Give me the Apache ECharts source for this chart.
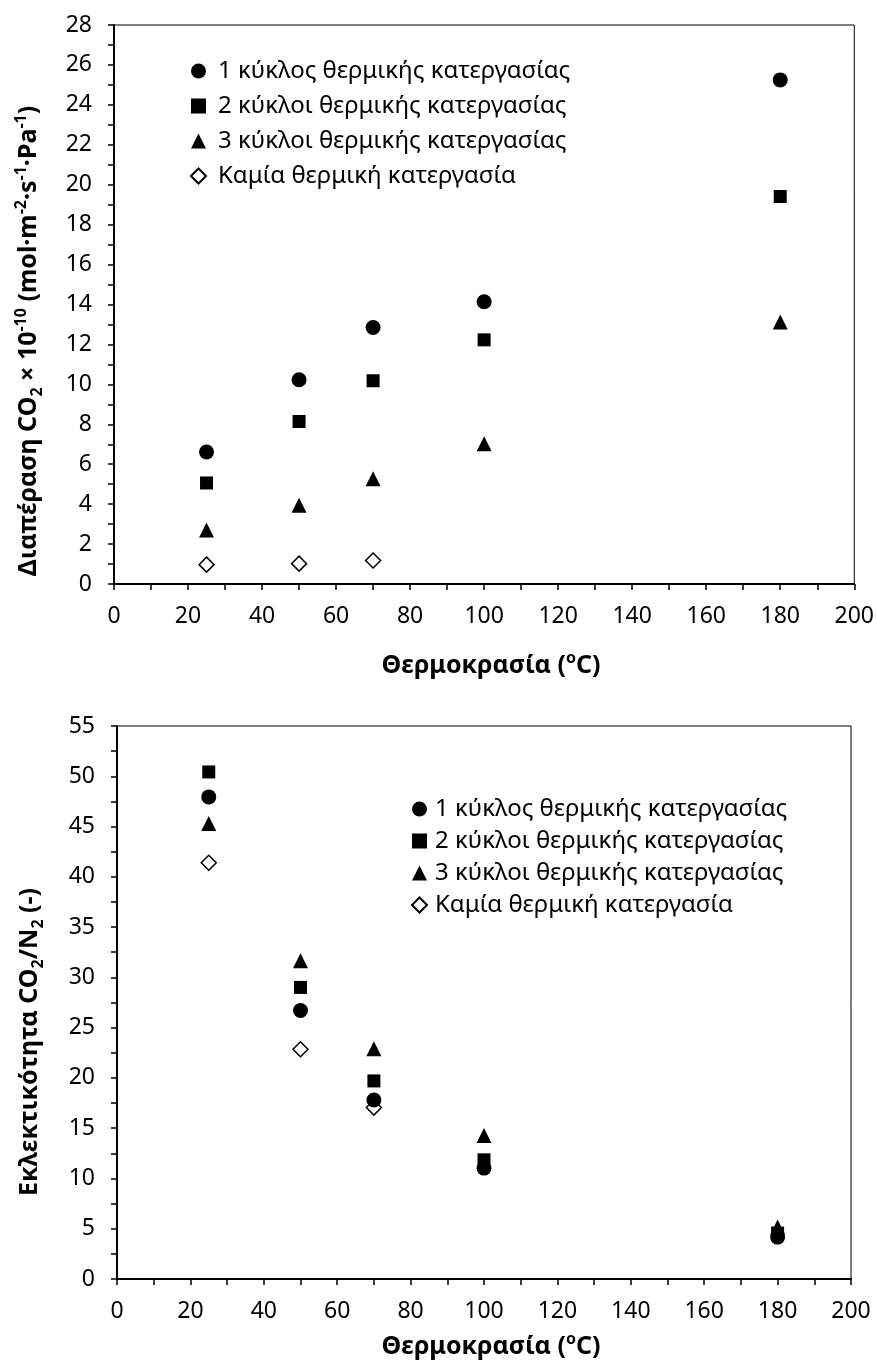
<!DOCTYPE html>
<html>
<head>
<meta charset="utf-8">
<script src="https://cdn.jsdelivr.net/npm/echarts@6/dist/echarts.min.js"></script>
<style>
html,body{margin:0;padding:0;background:#fff;}
#c{width:877px;height:1362px;}
</style>
</head>
<body>
<div id="c"></div>
<script>
// ---- data ----
const temps = [25, 50, 70, 100, 180];
const tempsNone = [25, 50, 70];
const seriesNames = ['1 κύκλος θερμικής κατεργασίας', '2 κύκλοι θερμικής κατεργασίας', '3 κύκλοι θερμικής κατεργασίας', 'Καμία θερμική κατεργασία'];
// Permeance CO2 x 1e-10
const perm1 = [6.61, 10.23, 12.85, 14.14, 25.25];
const perm2 = [5.06, 8.14, 10.18, 12.23, 19.41];
const perm3 = [2.70, 3.94, 5.27, 7.03, 13.12];
const perm0 = [0.97, 1.02, 1.18];
// Selectivity CO2/N2
const sel1 = [47.95, 26.7, 17.8, 11.03, 4.17];
const sel2 = [50.43, 29.0, 19.7, 11.85, 4.57];
const sel3 = [45.3, 31.65, 22.9, 14.27, 5.17];
const sel0 = [41.4, 22.85, 17.05];
// axis ticks
const xTicks = {min: 0, max: 200, interval: 20};
const yTopTicks = {min: 0, max: 28, interval: 2};
const yBotTicks = {min: 0, max: 55, interval: 5};

const FONT = 'Noto Sans';
const pairs = (xs, ys) => ys.map((v, i) => [xs[i], v]);

const styles = [
  {symbol: 'circle', symbolSize: 15, itemStyle: {color: '#000', opacity: 1}},
  {symbol: 'rect', symbolSize: 13, itemStyle: {color: '#000', opacity: 1}},
  {symbol: 'triangle', symbolSize: 15, itemStyle: {color: '#000', opacity: 1}},
  {symbol: 'diamond', symbolSize: 15, itemStyle: {color: '#fff', borderColor: '#000', borderWidth: 1.5, opacity: 1}}
];

function mkSeries(gi, arrs) {
  return arrs.map((a, i) => Object.assign({
    type: 'scatter', name: seriesNames[i], xAxisIndex: gi, yAxisIndex: gi,
    data: pairs(i === 3 ? tempsNone : temps, a), z: 10 - i
  }, JSON.parse(JSON.stringify(styles[i]))));
}

const tickLbl = {color: '#000', fontFamily: FONT, fontSize: 23, margin: 22};
function xAxis(gi) {
  return {
    type: 'value', gridIndex: gi, min: xTicks.min, max: xTicks.max, interval: xTicks.interval,
    axisLine: {show: true, onZero: false, lineStyle: {color: '#000', width: 2}},
    axisTick: {show: true, inside: false, length: 6, lineStyle: {color: '#000', width: 1.5}},
    minorTick: {show: true, splitNumber: 2, length: 6, lineStyle: {color: '#000', width: 1.5}},
    splitLine: {show: false},
    axisLabel: Object.assign({}, tickLbl, {margin: 21})
  };
}
function yAxis(gi, t) {
  return {
    type: 'value', gridIndex: gi, min: t.min, max: t.max, interval: t.interval,
    axisLine: {show: true, onZero: false, lineStyle: {color: '#000', width: 2}},
    axisTick: {show: true, inside: false, length: 6, lineStyle: {color: '#000', width: 1.5}},
    minorTick: {show: true, splitNumber: 2, length: 6, lineStyle: {color: '#000', width: 1.5}},
    splitLine: {show: false},
    axisLabel: Object.assign({}, tickLbl)
  };
}

const titleRich = {
  b: {fontFamily: FONT, fontSize: 25, fontWeight: 'bold', color: '#000', lineHeight: 32},
  sup: {fontFamily: FONT, fontSize: 16, fontWeight: 'bold', color: '#000', verticalAlign: 'top'},
  sub: {fontFamily: FONT, fontSize: 16, fontWeight: 'bold', color: '#000', verticalAlign: 'bottom'}
};
function titleText(x, y, rot, text) {
  return {type: 'text', x: x, y: y, rotation: rot, z: 100,
    style: {text: text, rich: titleRich, align: 'center', verticalAlign: 'middle'}};
}

function legend(left, top, pad, gap) {
  return {
    show: true, orient: 'vertical', left: left, top: top, itemWidth: 15, itemHeight: 15, itemGap: gap,
    selectedMode: false, data: seriesNames,
    itemStyle: {opacity: 1},
    textStyle: {fontFamily: FONT, fontSize: 24, color: '#000', lineHeight: 26, padding: [0, 0, 0, pad]}
  };
}

const chart = echarts.init(document.getElementById('c'), null, {renderer: 'canvas'});
chart.setOption({
  backgroundColor: '#fff',
  animation: false,
  grid: [
    {left: 114, top: 25, width: 741, height: 559, show: true, borderColor: '#000', borderWidth: 1, backgroundColor: 'transparent'},
    {left: 117, top: 726, width: 734, height: 553, show: true, borderColor: '#000', borderWidth: 1, backgroundColor: 'transparent'}
  ],
  xAxis: [xAxis(0), xAxis(1)],
  yAxis: [yAxis(0, yTopTicks), yAxis(1, yBotTicks)],
  legend: [legend(185, 53, 7, 9), legend(406, 791, 3, 6)],
  series: [].concat(mkSeries(0, [perm1, perm2, perm3, perm0]), mkSeries(1, [sel1, sel2, sel3, sel0])),
  graphic: [
    titleText(29, 341, Math.PI / 2, '{b|Διαπέραση CO}{sub|2}{b| × 10}{sup|-10}{b| (mol·m}{sup|-2}{b|·s}{sup|-1}{b|·Pa}{sup|-1}{b|)}'),
    titleText(30, 1042, Math.PI / 2, '{b|Εκλεκτικότητα CO}{sub|2}{b|/N}{sub|2}{b| (-)}'),
    titleText(491, 666, 0, '{b|Θερμοκρασία (}{sup|o}{b|C)}'),
    titleText(491, 1347, 0, '{b|Θερμοκρασία (}{sup|o}{b|C)}')
  ]
});
</script>
</body>
</html>
